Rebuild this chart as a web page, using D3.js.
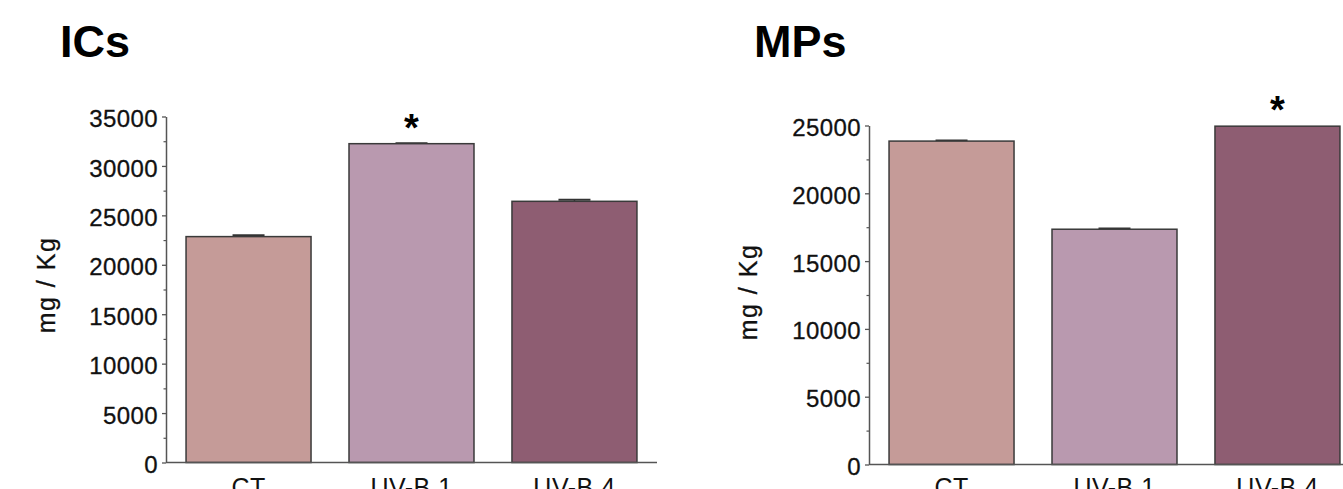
<!DOCTYPE html>
<html>
<head>
<meta charset="utf-8">
<script src="https://cdn.jsdelivr.net/npm/d3@7"></script>
<style>
  body { margin: 0; background: #ffffff; }
  svg { display: block; font-family: Arial, "Liberation Sans", sans-serif; }
</style>
</head>
<body>
<svg id="graph" width="1343" height="489"></svg>
<script>
    var w = 1343;
    var h = 489;

    // data
    var categories = ["CT", "UV-B 1", "UV-B 4"];
    var icsValues = [22850, 32250, 26420];
    var icsErrors = [150, 60, 160];
    var icsStars = ["", "*", ""];
    var mpsValues = [23850, 17350, 24950];
    var mpsErrors = [60, 60, 0];
    var mpsStars = ["", "", "*"];
    var icsTicks = [0, 5000, 10000, 15000, 20000, 25000, 30000, 35000];
    var mpsTicks = [0, 5000, 10000, 15000, 20000, 25000];

    var colorKey = {"CT": "#c59b98",
                    "UV-B 1": "#b999af",
                    "UV-B 4": "#8e5d72"};

    var svg2 = d3.select("#graph");

    svg2.append("rect").attr("width", w).attr("height", h).attr("fill", "#ffffff");

    function drawPanel(opts){
        var g = svg2.append("g");

        var x = d3.scaleBand()
            .domain(categories)
            .range([opts.x0, opts.x0 + 491])
            .paddingInner(0.233)
            .paddingOuter(0.123);

        var y = d3.scaleLinear()
            .domain([0, d3.max(opts.ticks)])
            .range([opts.y0, opts.y1]);

        var rows = categories.map(function(c, i){
            return {cat: c, v: opts.values[i], e: opts.errors[i], star: opts.stars[i]};
        });

        // title
        g.append("text")
            .attr("x", opts.titleX)
            .attr("y", 57)
            .style("font-size", "45px")
            .style("font-weight", "bold")
            .attr("fill", "#000")
            .text(opts.title);

        // error bars (drawn first, bar outline covers the lower half)
        g.selectAll(".errLine")
            .data(rows)
            .enter()
            .append("line")
            .attr("x1", function(d){ return x(d.cat) + x.bandwidth()/2; })
            .attr("x2", function(d){ return x(d.cat) + x.bandwidth()/2; })
            .attr("y1", function(d){ return y(d.v); })
            .attr("y2", function(d){ return y(d.v + d.e); })
            .attr("stroke", "#333")
            .attr("stroke-width", 1.5);

        g.selectAll(".errCap")
            .data(rows.filter(function(d){ return d.e > 0; }))
            .enter()
            .append("line")
            .attr("x1", function(d){ return x(d.cat) + x.bandwidth()/2 - 16; })
            .attr("x2", function(d){ return x(d.cat) + x.bandwidth()/2 + 16; })
            .attr("y1", function(d){ return y(d.v + d.e); })
            .attr("y2", function(d){ return y(d.v + d.e); })
            .attr("stroke", "#333")
            .attr("stroke-width", 1.8);

        // bars
        g.selectAll(".bar")
            .data(rows)
            .enter()
            .append("rect")
            .attr("class", "bar")
            .attr("x", function(d){ return x(d.cat); })
            .attr("y", function(d){ return y(d.v); })
            .attr("width", x.bandwidth())
            .attr("height", function(d){ return y(0) - y(d.v); })
            .style("fill", function(d){ return colorKey[d.cat]; })
            .attr("stroke", "#3a3a3a")
            .attr("stroke-width", 1.5);

        // significance stars
        g.selectAll(".star")
            .data(rows.filter(function(d){ return d.star != ""; }))
            .enter()
            .append("text")
            .attr("x", function(d){ return x(d.cat) + x.bandwidth()/2; })
            .attr("y", function(d){ return y(d.v) - 3; })
            .attr("text-anchor", "middle")
            .style("font-size", "38px")
            .style("font-weight", "bold")
            .attr("fill", "#000")
            .text(function(d){ return d.star; });

        // minor ticks
        var minors = [];
        for (var i = 0; i < opts.ticks.length - 1; i++){
            minors.push((opts.ticks[i] + opts.ticks[i+1]) / 2);
        }
        g.append("g")
            .attr("transform", "translate(" + opts.x0 + ",0)")
            .call(d3.axisLeft(y).tickValues(minors).tickSize(2.5).tickSizeOuter(0).tickFormat(""))
            .call(function(a){
                a.select(".domain").remove();
                a.selectAll("line").attr("stroke", "#555").attr("stroke-width", 1.2);
            });

        // y axis
        g.append("g")
            .attr("transform", "translate(" + opts.x0 + ",0)")
            .call(d3.axisLeft(y).tickValues(opts.ticks).tickSize(4).tickSizeOuter(0).tickPadding(4).tickFormat(d3.format("d")))
            .call(function(a){
                a.select(".domain").attr("stroke", "#555").attr("stroke-width", 1.5);
                a.selectAll(".tick line").attr("stroke", "#555").attr("stroke-width", 1.3);
                a.selectAll("text")
                    .attr("dy", "0.42em")
                    .style("font-size", "24px")
                    .style("letter-spacing", "0.4px")
                    .attr("fill", "#111")
                    .attr("stroke", "#111")
                    .attr("stroke-width", 0.3)
                    .style("font-family", "Arial, 'Liberation Sans', sans-serif");
            });

        // x axis line
        g.append("line")
            .attr("x1", opts.x0)
            .attr("x2", opts.x0 + 491)
            .attr("y1", y(0))
            .attr("y2", y(0))
            .attr("stroke", "#555")
            .attr("stroke-width", 1.5);

        // category labels (bottom half falls off the picture, as in the original)
        g.selectAll(".catLabel")
            .data(rows)
            .enter()
            .append("text")
            .attr("x", function(d){ return x(d.cat) + x.bandwidth()/2; })
            .attr("y", 496)
            .attr("text-anchor", "middle")
            .style("font-size", "25px")
            .style("letter-spacing", "0.5px")
            .attr("fill", "#111")
            .text(function(d){ return d.cat; });

        // y axis title
        g.append("text")
            .attr("transform", "translate(" + opts.labelX + "," + opts.labelY + ") rotate(-90)")
            .attr("text-anchor", "middle")
            .style("font-size", "25px")
            .style("letter-spacing", "1.5px")
            .attr("fill", "#111")
            .attr("stroke", "#111")
            .attr("stroke-width", 0.3)
            .text("mg / Kg");
    }

    drawPanel({title: "ICs", titleX: 60, x0: 166, y0: 462.5, y1: 116.5, labelX: 55, labelY: 285,
               values: icsValues, errors: icsErrors, stars: icsStars, ticks: icsTicks});
    drawPanel({title: "MPs", titleX: 754, x0: 869, y0: 464.5, y1: 125.5, labelX: 757, labelY: 292,
               values: mpsValues, errors: mpsErrors, stars: mpsStars, ticks: mpsTicks});
</script>
</body>
</html>
